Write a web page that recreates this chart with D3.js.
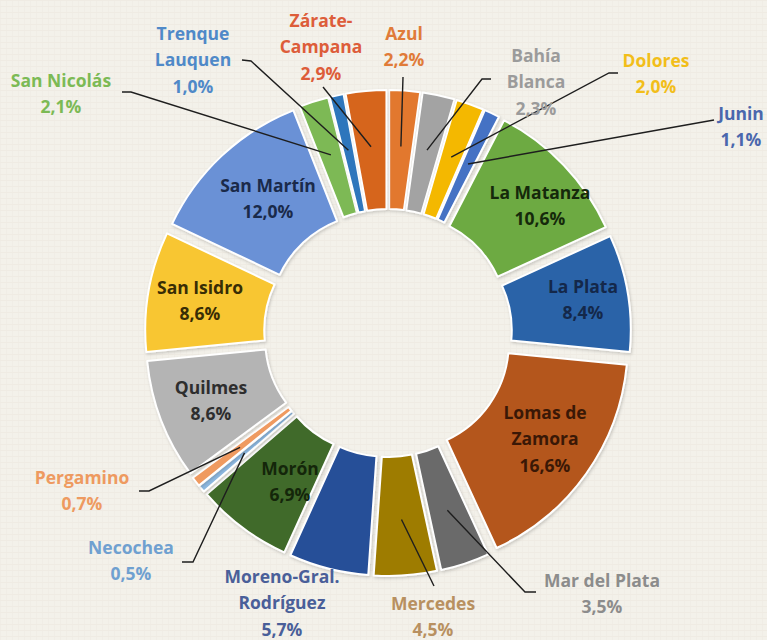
<!DOCTYPE html>
<html>
<head>
<meta charset="utf-8">
<script src="https://cdn.jsdelivr.net/npm/d3@7"></script>
<style>
  html, body { margin: 0; padding: 0; background: #f3f1ea; }
  svg { display: block; }
  text { font-family: "Open Sans", Lato, sans-serif; font-weight: 700; }
</style>
</head>
<body>
<svg id="chart" width="767" height="640"></svg>
<script>
// ---- data ----
const categories = ["Azul","Bahía Blanca","Dolores","Junin","La Matanza","La Plata","Lomas de Zamora","Mar del Plata","Mercedes","Moreno-Gral. Rodríguez","Morón","Necochea","Pergamino","Quilmes","San Isidro","San Martín","San Nicolás","Trenque Lauquen","Zárate-Campana"];
const values = [2.2, 2.3, 2.0, 1.1, 10.6, 8.4, 16.6, 3.5, 4.5, 5.7, 6.9, 0.5, 0.7, 8.6, 8.6, 12.0, 2.1, 1.0, 2.9];
const valueLabels = ["2,2%","2,3%","2,0%","1,1%","10,6%","8,4%","16,6%","3,5%","4,5%","5,7%","6,9%","0,5%","0,7%","8,6%","8,6%","12,0%","2,1%","1,0%","2,9%"];
const nameLines = [["Azul"],["Bahía","Blanca"],["Dolores"],["Junin"],["La Matanza"],["La Plata"],["Lomas de","Zamora"],["Mar del Plata"],["Mercedes"],["Moreno-Gral.","Rodríguez"],["Morón"],["Necochea"],["Pergamino"],["Quilmes"],["San Isidro"],["San Martín"],["San Nicolás"],["Trenque","Lauquen"],["Zárate-","Campana"]];

// ---- styles / layout ----
const sliceColors = ["#E2782F","#A3A3A3","#F4B800","#4472C4","#6DAA42","#2A63A8","#B4561B","#6A6A6A","#9E7B06","#284F98","#416A29","#8DB8E0","#EF9A60","#B4B4B4","#F8C630","#6A91D6","#7DB955","#2E76BC","#D6651E"];
const textColors = ["#E07B39","#9b9b9b","#F2BE1A","#4a67ad","#15290b","#14284a","#3a1806","#8c8c8c","#B89060","#4a5f99","#14260a","#6fa0d0","#EE9A60","#2e2e2e","#382d05","#1a2a4a","#7cba55","#4f89c8","#DD5D3A"];
// label center of first line (x, y) and leader-line start points
const labelLayout = [
  {x:404, y:33,  lead:[[403,77]]},
  {x:536, y:55,  lead:[[491,79],[482,79]]},
  {x:656, y:60,  lead:[[618,73],[609,73]]},
  {x:741, y:113, lead:[[714,120]]},
  {x:540, y:192, lead:null},
  {x:583, y:286, lead:null},
  {x:545, y:412, lead:null},
  {x:602, y:580, lead:[[536,592],[525,592]]},
  {x:433, y:603, lead:[[434,586]]},
  {x:282, y:576, lead:null},
  {x:290, y:468, lead:null},
  {x:131, y:547, lead:[[182,562],[193,562]]},
  {x:82,  y:477, lead:[[139,491],[149,491]]},
  {x:211, y:387, lead:null},
  {x:200, y:287, lead:null},
  {x:268, y:185, lead:null},
  {x:61,  y:80,  lead:[[122,92],[131,92]]},
  {x:193, y:33,  lead:[[242,60],[251,61]]},
  {x:321, y:20,  lead:[[323,87]]}
];

const W = 767, H = 640;
const cx = 388, cy = 333;
const innerR = 107, outerR = 226, explode = 17, leadR = 187;
const lineH = 26.3;

const svg = d3.select("#chart");

// background with subtle linen texture
const defs = svg.append("defs");
const pat = defs.append("pattern").attr("id","linen").attr("width",6).attr("height",6).attr("patternUnits","userSpaceOnUse");
pat.append("rect").attr("width",6).attr("height",6).attr("fill","#f3f1ea");
pat.append("line").attr("x1",0).attr("y1",0.5).attr("x2",6).attr("y2",0.5).attr("stroke","#ece8de").attr("stroke-width",0.6);
pat.append("line").attr("x1",0.5).attr("y1",0).attr("x2",0.5).attr("y2",6).attr("stroke","#eeebe2").attr("stroke-width",0.6);
svg.append("rect").attr("width",W).attr("height",H).attr("fill","url(#linen)");

const shadow = defs.append("filter").attr("id","sh").attr("x","-20%").attr("y","-20%").attr("width","140%").attr("height","140%");
shadow.append("feDropShadow").attr("dx",1).attr("dy",1.5).attr("stdDeviation",1.5).attr("flood-color","#000").attr("flood-opacity",0.18);

const data = categories.map((c,i) => ({name:c, value:values[i], i}));
const pie = d3.pie().value(d => d.value).sort(null).startAngle(0).endAngle(2*Math.PI);
const arcs = pie(data);
const arc = d3.arc().innerRadius(innerR).outerRadius(outerR);

const g = svg.append("g").attr("transform", `translate(${cx},${cy})`);

function offset(a, r) {
  const m = (a.startAngle + a.endAngle) / 2;
  return [Math.sin(m) * r, -Math.cos(m) * r];
}

g.selectAll("path.slice").data(arcs).join("path")
  .attr("class","slice")
  .attr("d", arc)
  .attr("transform", d => { const o = offset(d, explode); return `translate(${o[0]},${o[1]})`; })
  .attr("fill", d => sliceColors[d.data.i])
  .attr("stroke", "#ffffff")
  .attr("stroke-width", 2)
  .attr("stroke-linejoin","round")
  .attr("filter","url(#sh)");

// leader lines
const lines = svg.append("g");
arcs.forEach(d => {
  const L = labelLayout[d.data.i];
  if (!L.lead) return;
  const o = offset(d, leadR);
  const pts = L.lead.concat([[cx + o[0], cy + o[1]]]);
  lines.append("path")
    .attr("d", d3.line()(pts))
    .attr("fill","none")
    .attr("stroke","#1e1e1e")
    .attr("stroke-width",1.4);
});

// labels
const labels = svg.append("g");
arcs.forEach(d => {
  const i = d.data.i;
  const L = labelLayout[i];
  const linesTxt = nameLines[i].concat([valueLabels[i]]);
  const t = labels.append("text")
    .attr("x", L.x).attr("y", L.y)
    .attr("text-anchor","middle")
    .attr("dominant-baseline","central")
    .attr("font-size", 17.5)
    .attr("fill", textColors[i]);
  linesTxt.forEach((s, k) => {
    t.append("tspan").attr("x", L.x).attr("y", L.y + k*lineH).text(s);
  });
});
</script>
</body>
</html>
